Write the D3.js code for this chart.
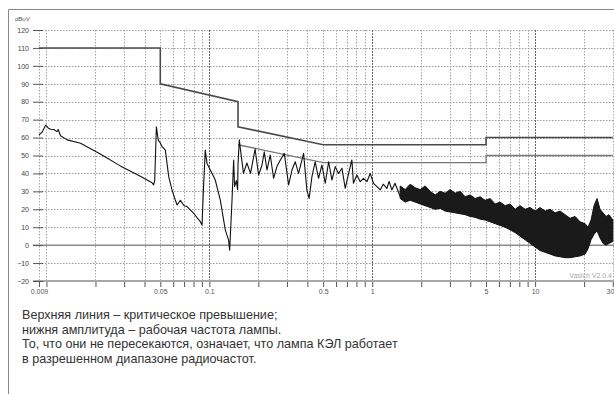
<!DOCTYPE html>
<html>
<head>
<meta charset="utf-8">
<script src="https://cdn.jsdelivr.net/npm/d3@7"></script>
<style>
  body { margin: 0; background: #fff; }
  svg { display: block; font-family: "Liberation Sans", Arial, sans-serif; }
</style>
</head>
<body>
<svg id="chart" width="614" height="394"></svg>
<script>
// frequency in MHz, level in dBuV
const gridFreqs = [0.009, 0.01, 0.02, 0.03, 0.04, 0.05, 0.06, 0.07, 0.08, 0.09,
  0.1, 0.2, 0.3, 0.4, 0.5, 0.6, 0.7, 0.8, 0.9,
  1, 2, 3, 4, 5, 6, 7, 8, 9, 10, 20, 30];
const majorFreqs = [0.1, 1, 10];
const xLabels = ['0.009', '0.05', '0.1', '0.5', '1', '5', '10', '30'];
const yTicks = [120, 110, 100, 90, 80, 70, 60, 50, 40, 30, 20, 10, 0, -10, -20];

// limit lines (quasi-peak and average)
const qpFreq = [0.009, 0.05, 0.05, 0.15, 0.15, 0.5, 5, 5, 30];
const qpLevel = [110, 110, 90, 80, 66, 56, 56, 60, 60];
const avFreq = [0.15, 0.5, 5, 5, 30];
const avLevel = [56, 46, 46, 50, 50];

// measured trace, 9 kHz .. 1.5 MHz
const traceFreq = [0.009, 0.0094, 0.0099, 0.0102, 0.0106, 0.0111, 0.0116, 0.0118, 0.0122, 0.0134,
  0.0162, 0.0214, 0.0284, 0.0377, 0.0415, 0.0445, 0.0455, 0.0462, 0.0473, 0.0486,
  0.05, 0.0513, 0.0537, 0.0563, 0.059, 0.0618, 0.0634, 0.0664, 0.07, 0.073,
  0.08, 0.088, 0.0902, 0.0919, 0.0944, 0.0968, 0.1014, 0.1088, 0.1167, 0.1254,
  0.1313, 0.1333, 0.1378, 0.141, 0.1429, 0.1465, 0.1492, 0.15, 0.1528,
  0.155, 0.162, 0.170, 0.179, 0.191, 0.2006, 0.2105, 0.2174, 0.226, 0.2366,
  0.248, 0.260, 0.273, 0.2886, 0.3067, 0.3216, 0.337, 0.353, 0.379, 0.397,
  0.410, 0.4265, 0.4467, 0.4685, 0.491, 0.515, 0.540, 0.566, 0.593, 0.621,
  0.652, 0.683, 0.716, 0.750, 0.767, 0.805, 0.844, 0.884, 0.928, 0.972,
  1.018, 1.069, 1.12, 1.168, 1.23, 1.27, 1.32, 1.38, 1.485];
const traceLevel = [61.4, 63, 67, 65.5, 64.6, 64.5, 63.3, 64.5, 61, 58.7,
  56.8, 50.8, 44.2, 38.4, 36.3, 34.8, 33.6, 36, 66, 58.6,
  57, 54.9, 53, 38.2, 30.8, 25.2, 22.4, 25, 22, 21.5,
  17.8, 13.1, 11.2, 30, 53, 45.6, 41.9, 36.3, 25.2, 8.4,
  2.8, -2.8, 25, 47.5, 32.6, 36, 30.8, 45, 58.7,
  54, 40, 45.8, 40, 53.6, 39, 44.7, 52, 41.9, 50.3,
  37.3, 43.8, 47.5, 51.2, 33.6, 41.9, 46.5, 40, 51.2, 30.8,
  26.1, 38.2, 46.5, 37.3, 44.7, 34.5, 46.5, 36.3, 43.8, 40,
  42.9, 31.7, 40, 47.5, 34.5, 39.1, 35.4, 37.3, 35.4, 40,
  34.5, 32.6, 30.8, 34, 31.7, 35.5, 30.8, 34.5, 27.1];

// dense part of the trace above 1.5 MHz: upper and lower envelope
const bandFreq = [1.485, 1.594, 1.711, 1.835, 1.97, 2.114, 2.269, 2.435, 2.613, 2.804,
  3.01, 3.23, 3.466, 3.72, 3.993, 4.284, 4.598, 4.935, 5.297, 5.684,
  6.1, 6.546, 7.025, 7.54, 8.091, 8.683, 9.319, 10, 10.73, 11.52,
  12.36, 13.27, 14.24, 15.28, 16.4, 17.6, 18.89, 20.27, 21.15, 22.06,
  23.01, 24.01, 25.05, 26.14, 27.27, 28.44, 30];
const bandHigh = [33, 31, 34, 32, 31, 33, 30, 28, 30, 29,
  31, 29, 30, 27, 28, 26, 27, 25, 26, 23,
  24, 22, 23, 20, 22, 20, 21, 19, 21, 19,
  20, 18, 19, 17, 15, 16, 13, 12, 10, 14,
  22, 26, 20, 18, 16, 17, 14];
const bandLow = [26, 24, 25, 24, 23, 22, 21, 20, 20.5, 19,
  18.5, 18, 17.5, 17, 16, 15.5, 14.5, 14, 13, 12,
  11, 10, 8.5, 7, 5, 3, 1, -1, -3, -4,
  -5, -6, -6.5, -7, -7, -6.5, -6, -5, -2, 3,
  6, 8, 4, 1, 0, 1, 2];

const svg = d3.select('#chart');
const W = 614, H = 394;

const x = d3.scaleLog().domain([0.009, 30]).range([39, 612.8]);
const y = d3.scaleLinear().domain([-20, 120]).range([281, 30]);

// outer frame
svg.append('path')
  .attr('d', `M8.5,${H} L8.5,9.5 L${W},9.5`)
  .attr('fill', 'none').attr('stroke', '#8a8a8a').attr('stroke-width', 1);

// grid
const grid = svg.append('g').attr('class', 'grid');
grid.selectAll('line.h')
  .data(yTicks.filter(d => d > -20 && d !== 0))
  .enter().append('line')
  .attr('x1', x(0.009)).attr('x2', W)
  .attr('y1', d => Math.round(y(d)) + 0.5).attr('y2', d => Math.round(y(d)) + 0.5)
  .attr('stroke', '#9a9a9a').attr('stroke-dasharray', '1.5,1.5');
grid.selectAll('line.v')
  .data(gridFreqs)
  .enter().append('line')
  .attr('x1', d => Math.round(x(d)) + 0.5).attr('x2', d => Math.round(x(d)) + 0.5)
  .attr('y1', y(120)).attr('y2', y(-20))
  .attr('stroke', d => majorFreqs.includes(d) ? '#666' : '#a5a5a5')
  .attr('stroke-dasharray', d => majorFreqs.includes(d) ? '2,1' : '1.5,1.5');

// 0 dB line
svg.append('line')
  .attr('x1', 33).attr('x2', W)
  .attr('y1', y(0)).attr('y2', y(0))
  .attr('stroke', '#8c8c8c').attr('stroke-width', 1.5);

// axes
const xAxis = svg.append('g')
  .attr('transform', `translate(0,${y(-20)})`)
  .call(d3.axisBottom(x).tickValues(gridFreqs).tickSize(6).tickSizeOuter(0)
    .tickFormat(d => {
      const s = xLabels.find(l => +l === d);
      return s === undefined ? '' : s;
    }));
xAxis.select('.domain').remove();
xAxis.selectAll('.tick line').attr('stroke', '#555');
xAxis.selectAll('.tick text')
  .attr('y', 8).attr('font-size', 7).attr('fill', '#555')
  .attr('font-family', '"Liberation Sans", Arial, sans-serif')
  .filter(d => d === 30).attr('text-anchor', 'end').attr('dx', 1);
svg.append('line')
  .attr('x1', 33).attr('x2', W)
  .attr('y1', y(-20)).attr('y2', y(-20))
  .attr('stroke', '#a8a8a8').attr('stroke-width', 2);

const yAxis = svg.append('g')
  .attr('transform', 'translate(43,0)')
  .call(d3.axisLeft(y).tickValues(yTicks).tickSize(10).tickPadding(4));
yAxis.select('.domain').remove();
yAxis.selectAll('.tick line').attr('stroke', '#555');
yAxis.selectAll('.tick text')
  .attr('font-size', 7).attr('fill', '#444')
  .attr('font-family', '"Liberation Sans", Arial, sans-serif');

svg.append('text')
  .attr('x', 15).attr('y', 21)
  .attr('font-size', 6).attr('font-style', 'italic').attr('fill', '#555')
  .text('dBuV');

svg.append('text')
  .attr('x', 612).attr('y', 278).attr('text-anchor', 'end')
  .attr('font-size', 7).attr('fill', '#aaa')
  .text('Vasich V2.0.4');

// limit lines
const line = d3.line().x(d => x(d[0])).y(d => y(d[1]));
svg.append('path')
  .datum(avFreq.map((f, i) => [f, avLevel[i]]))
  .attr('d', line).attr('fill', 'none')
  .attr('stroke', '#777').attr('stroke-width', 1.3);
svg.append('path')
  .datum(qpFreq.map((f, i) => [f, qpLevel[i]]))
  .attr('d', line).attr('fill', 'none')
  .attr('stroke', '#4a4a4a').attr('stroke-width', 1.6);

// measured trace
svg.append('path')
  .datum(traceFreq.map((f, i) => [f, traceLevel[i]]))
  .attr('d', line).attr('fill', 'none')
  .attr('stroke', '#111').attr('stroke-width', 1.1).attr('stroke-linejoin', 'round');

const band = bandFreq.map((f, i) => ({ f: f, hi: bandHigh[i], lo: bandLow[i] }));
svg.append('path')
  .datum(band)
  .attr('d', d3.area().x(d => x(d.f)).y0(d => y(d.lo)).y1(d => y(d.hi)))
  .attr('fill', '#1a1a1a').attr('stroke', '#111').attr('stroke-width', 1);

// caption
const caption = [
  'Верхняя линия – критическое превышение;',
  'нижня амплитуда – рабочая частота лампы.',
  'То, что они не пересекаются, означает, что лампа КЭЛ работает',
  'в разрешенном диапазоне радиочастот.'
];
svg.append('g').selectAll('text')
  .data(caption)
  .enter().append('text')
  .attr('x', 22).attr('y', (d, i) => 319 + i * 14.5)
  .attr('font-size', 12.6).attr('fill', '#333')
  .text(d => d);
</script>
</body>
</html>
